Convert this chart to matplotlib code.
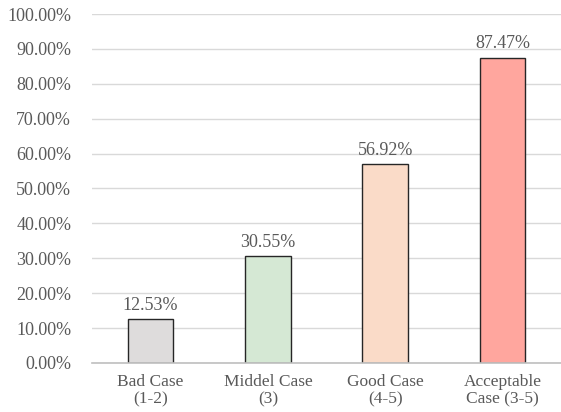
import matplotlib

matplotlib.use("Agg")
import matplotlib.pyplot as plt
from matplotlib.ticker import FuncFormatter

categories = ["Bad Case\n(1-2)", "Middel Case\n(3)", "Good Case\n(4-5)", "Acceptable\nCase (3-5)"]
values = [12.53, 30.55, 56.92, 87.47]
colors = ["#DEDCDC", "#D5E8D4", "#FADBC8", "#FFA69E"]

plt.rcParams["font.family"] = ["Liberation Serif", "DejaVu Serif"]
TXT = "#595959"

fig = plt.figure(figsize=(5.61, 4.12), dpi=100)
ax = fig.add_axes([0.164, 0.119, 0.836, 0.847])

x = range(len(categories))
ax.bar(x, values, 0.39, color=colors, edgecolor="#262626", linewidth=1.0, zorder=2)
for xi, v in zip(x, values):
    ax.text(xi, v + 1.5, f"{v:.2f}%", ha="center", va="bottom", fontsize=13, color=TXT)

ax.set_xlim(-0.5, 3.5)
ax.set_ylim(0, 100)
ax.set_yticks(range(0, 101, 10))
ax.yaxis.set_major_formatter(FuncFormatter(lambda v, _: f"{v:.2f}%"))
ax.set_xticks(list(x), categories)
ax.tick_params(axis="y", length=0, labelsize=13, labelcolor=TXT, pad=15)
ax.tick_params(axis="x", length=0, labelsize=12.5, labelcolor=TXT, pad=8)
for lab in ax.get_xticklabels():
    lab.set_linespacing(1.12)

ax.grid(axis="y", color="#D9D9D9", lw=1.0, zorder=0)
for s in ("top", "right", "left"):
    ax.spines[s].set_visible(False)
ax.spines["bottom"].set_color("#BFBFBF")
ax.spines["bottom"].set_linewidth(1.2)
ax.set_axisbelow(True)

fig.savefig("out.png", dpi=100)
